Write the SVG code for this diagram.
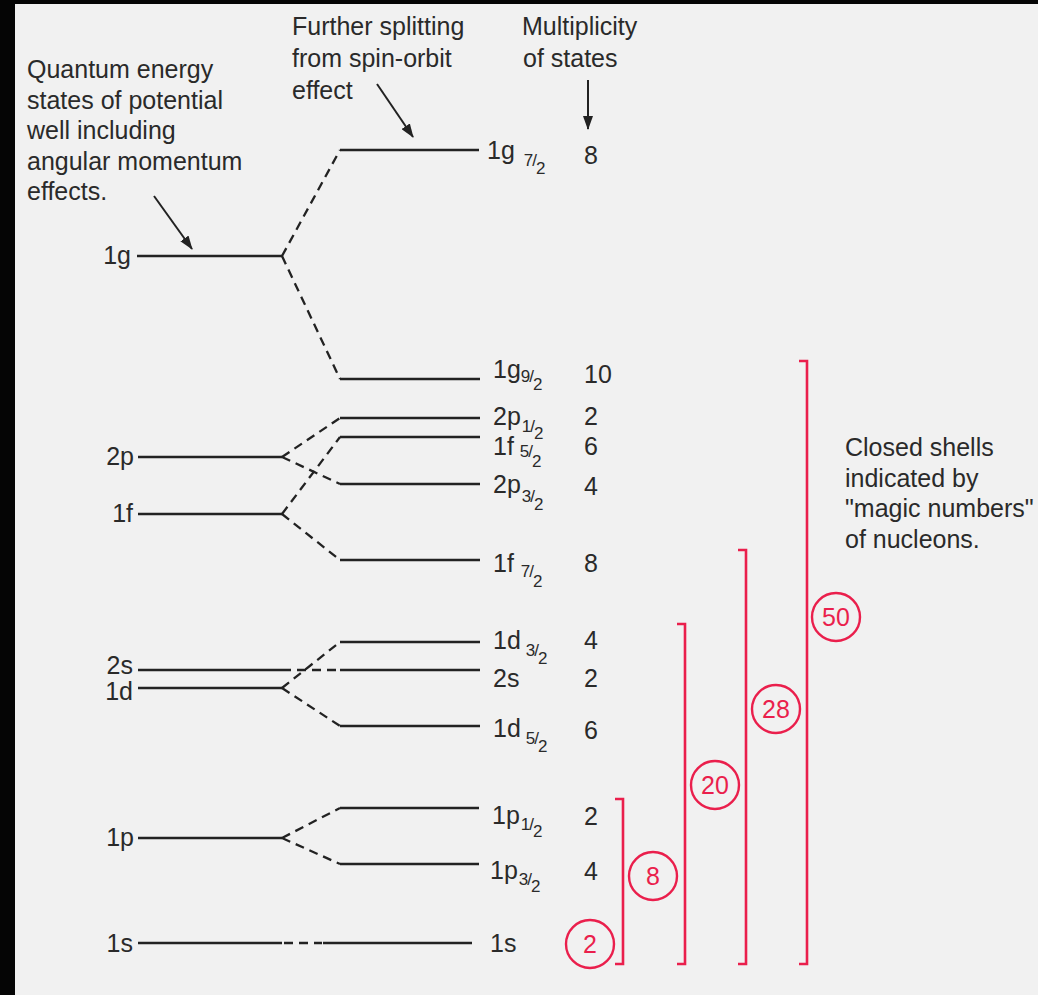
<svg xmlns="http://www.w3.org/2000/svg" width="1038" height="995" viewBox="0 0 1038 995">
  <style>
    text { font-family: "Liberation Sans", Arial, Helvetica, sans-serif; fill: #2a2a2a; }
    .t { font-size: 25px; }
    .sub { font-size: 17px; }
    .lvl { stroke: #222; stroke-width: 2.6; fill: none; }
    .dash { stroke: #222; stroke-width: 2.3; fill: none; stroke-dasharray: 9 6; }
    .arr { stroke: #222; stroke-width: 2; fill: none; marker-end: url(#head); }
    .br { stroke: #ea1f4c; stroke-width: 2.6; fill: none; }
    .ring { stroke: #ea1f4c; stroke-width: 2.4; fill: none; }
    .magic { font-size: 25px; fill: #ea1f4c; text-anchor: middle; }
  </style>
  <defs>
    <marker id="head" viewBox="0 0 14 10" refX="13" refY="5" markerWidth="14" markerHeight="10" markerUnits="userSpaceOnUse" orient="auto">
      <path d="M0,0 L14,5 L0,10 z" fill="#222"/>
    </marker>
  </defs>

  <!-- frame and background -->
  <rect x="0" y="0" width="1038" height="995" fill="#050505"/>
  <rect x="15" y="4" width="1023" height="991" fill="#f1f1f1"/>

  <!-- captions -->
  <g id="caption-left">
    <text class="t" x="27" y="78">Quantum energy</text>
    <text class="t" x="27" y="108.5">states of potential</text>
    <text class="t" x="27" y="139">well including</text>
    <text class="t" x="27" y="169.5">angular momentum</text>
    <text class="t" x="27" y="200">effects.</text>
    <line class="arr" x1="154" y1="196" x2="192" y2="249"/>
  </g>
  <g id="caption-spin-orbit">
    <text class="t" x="292" y="35">Further splitting</text>
    <text class="t" x="292" y="67">from spin-orbit</text>
    <text class="t" x="292" y="99">effect</text>
    <line class="arr" x1="377" y1="84" x2="413" y2="137"/>
  </g>
  <g id="caption-multiplicity">
    <text class="t" x="522" y="35">Multiplicity</text>
    <text class="t" x="523" y="67">of states</text>
    <line class="arr" x1="588" y1="80" x2="588" y2="129"/>
  </g>
  <g id="caption-closed">
    <text class="t" x="845" y="456">Closed shells</text>
    <text class="t" x="845" y="487">indicated by</text>
    <text class="t" x="845" y="517">"magic numbers"</text>
    <text class="t" x="845" y="548">of nucleons.</text>
  </g>

  <!-- unsplit levels -->
  <g id="left-1g"><text class="t" x="131" y="264" text-anchor="end">1g</text><line class="lvl" x1="137" y1="256" x2="282" y2="256"/></g>
  <g id="left-2p"><text class="t" x="134" y="465" text-anchor="end">2p</text><line class="lvl" x1="138" y1="457" x2="282" y2="457"/></g>
  <g id="left-1f"><text class="t" x="133" y="522" text-anchor="end">1f</text><line class="lvl" x1="138" y1="514" x2="282" y2="514"/></g>
  <g id="left-2s"><text class="t" x="133" y="674" text-anchor="end" font-size="22">2s</text><line class="lvl" x1="138" y1="670" x2="282" y2="670"/></g>
  <g id="left-1d"><text class="t" x="133" y="700" text-anchor="end" font-size="22">1d</text><line class="lvl" x1="138" y1="688" x2="282" y2="688"/></g>
  <g id="left-1p"><text class="t" x="134" y="846" text-anchor="end">1p</text><line class="lvl" x1="138" y1="838" x2="282" y2="838"/></g>
  <g id="left-1s"><text class="t" x="133" y="952" text-anchor="end">1s</text><line class="lvl" x1="138" y1="943" x2="282" y2="943"/></g>

  <!-- spin-orbit split levels -->
  <g id="right-1g72">
    <line class="lvl" x1="340" y1="150" x2="479" y2="150"/>
    <text class="t" x="487" y="159">1g<tspan class="sub" dx="9" dy="7">7</tspan><tspan class="sub" dx="-1">/</tspan><tspan class="sub" dx="-1" dy="8">2</tspan></text>
    <text class="t" x="584" y="164">8</text>
  </g>
  <g id="right-1g92">
    <line class="lvl" x1="340" y1="379" x2="480" y2="379"/>
    <text class="t" x="493" y="378">1g<tspan class="sub" dy="4">9</tspan><tspan class="sub" dx="-1">/</tspan><tspan class="sub" dx="-1" dy="8">2</tspan></text>
    <text class="t" x="584" y="383">10</text>
  </g>
  <g id="right-2p12">
    <line class="lvl" x1="340" y1="418" x2="480" y2="418"/>
    <text class="t" x="493" y="425">2p<tspan class="sub" dx="1" dy="7">1</tspan><tspan class="sub" dx="-1">/</tspan><tspan class="sub" dx="-1" dy="7">2</tspan></text>
    <text class="t" x="584" y="425">2</text>
  </g>
  <g id="right-1f52">
    <line class="lvl" x1="340" y1="437" x2="480" y2="437"/>
    <text class="t" x="493" y="455">1f<tspan class="sub" dx="6" dy="2">5</tspan><tspan class="sub" dx="-1">/</tspan><tspan class="sub" dx="-1" dy="10">2</tspan></text>
    <text class="t" x="584" y="455">6</text>
  </g>
  <g id="right-2p32">
    <line class="lvl" x1="340" y1="484" x2="480" y2="484"/>
    <text class="t" x="493" y="493">2p<tspan class="sub" dx="1" dy="9">3</tspan><tspan class="sub" dx="-1">/</tspan><tspan class="sub" dx="-1" dy="8">2</tspan></text>
    <text class="t" x="584" y="495">4</text>
  </g>
  <g id="right-1f72">
    <line class="lvl" x1="340" y1="560" x2="480" y2="560"/>
    <text class="t" x="493" y="572">1f<tspan class="sub" dx="7" dy="5">7</tspan><tspan class="sub" dx="-1">/</tspan><tspan class="sub" dx="-1" dy="10">2</tspan></text>
    <text class="t" x="584" y="572">8</text>
  </g>
  <g id="right-1d32">
    <line class="lvl" x1="340" y1="642" x2="480" y2="642"/>
    <text class="t" x="493" y="649">1d<tspan class="sub" dx="5" dy="7">3</tspan><tspan class="sub" dx="-1">/</tspan><tspan class="sub" dx="-1" dy="8">2</tspan></text>
    <text class="t" x="584" y="649">4</text>
  </g>
  <g id="right-2s">
    <line class="dash" x1="282" y1="670" x2="340" y2="670"/>
    <line class="lvl" x1="340" y1="670" x2="480" y2="670"/>
    <text class="t" x="493" y="687">2s</text>
    <text class="t" x="584" y="687">2</text>
  </g>
  <g id="right-1d52">
    <line class="lvl" x1="340" y1="726" x2="480" y2="726"/>
    <text class="t" x="493" y="737">1d<tspan class="sub" dx="5" dy="7">5</tspan><tspan class="sub" dx="-1">/</tspan><tspan class="sub" dx="-1" dy="8">2</tspan></text>
    <text class="t" x="584" y="739">6</text>
  </g>
  <g id="right-1p12">
    <line class="lvl" x1="340" y1="808" x2="479" y2="808"/>
    <text class="t" x="492" y="824">1p<tspan class="sub" dx="1" dy="6">1</tspan><tspan class="sub" dx="-1">/</tspan><tspan class="sub" dx="-1" dy="7">2</tspan></text>
    <text class="t" x="584" y="825">2</text>
  </g>
  <g id="right-1p32">
    <line class="lvl" x1="340" y1="864" x2="479" y2="864"/>
    <text class="t" x="490" y="879">1p<tspan class="sub" dx="1" dy="6">3</tspan><tspan class="sub" dx="-1">/</tspan><tspan class="sub" dx="-1" dy="7">2</tspan></text>
    <text class="t" x="584" y="880">4</text>
  </g>
  <g id="right-1s">
    <line class="dash" x1="284" y1="943" x2="322" y2="943" stroke-dasharray="0 4 10 8 8 8"/>
    <line class="lvl" x1="323" y1="943" x2="472" y2="943"/>
    <text class="t" x="490" y="952">1s</text>
  </g>

  <!-- splitting connectors -->
  <g id="connectors">
    <line class="dash" x1="282" y1="256" x2="340" y2="150"/>
    <line class="dash" x1="282" y1="256" x2="340" y2="379"/>
    <line class="dash" x1="282" y1="457" x2="340" y2="418"/>
    <line class="dash" x1="282" y1="457" x2="340" y2="484"/>
    <line class="dash" x1="282" y1="514" x2="340" y2="437"/>
    <line class="dash" x1="282" y1="514" x2="340" y2="560"/>
    <line class="dash" x1="282" y1="688" x2="340" y2="642"/>
    <line class="dash" x1="282" y1="688" x2="340" y2="726"/>
    <line class="dash" x1="282" y1="838" x2="340" y2="808"/>
    <line class="dash" x1="282" y1="838" x2="340" y2="864"/>
  </g>

  <!-- closed shells -->
  <g id="shell-2">
    <circle class="ring" cx="590" cy="944" r="24"/>
    <text class="magic" x="590" y="953">2</text>
  </g>
  <g id="shell-8">
    <path class="br" d="M615,799 H623 V964 H615"/>
    <circle class="ring" cx="653" cy="876" r="24"/>
    <text class="magic" x="653" y="885">8</text>
  </g>
  <g id="shell-20">
    <path class="br" d="M677,624 H685 V964 H677"/>
    <circle class="ring" cx="715" cy="785" r="24"/>
    <text class="magic" x="715" y="794">20</text>
  </g>
  <g id="shell-28">
    <path class="br" d="M738,550 H746 V964 H738"/>
    <circle class="ring" cx="776" cy="709" r="24"/>
    <text class="magic" x="776" y="718">28</text>
  </g>
  <g id="shell-50">
    <path class="br" d="M799,361 H807 V964 H799"/>
    <circle class="ring" cx="836" cy="617" r="24"/>
    <text class="magic" x="836" y="626">50</text>
  </g>
</svg>
